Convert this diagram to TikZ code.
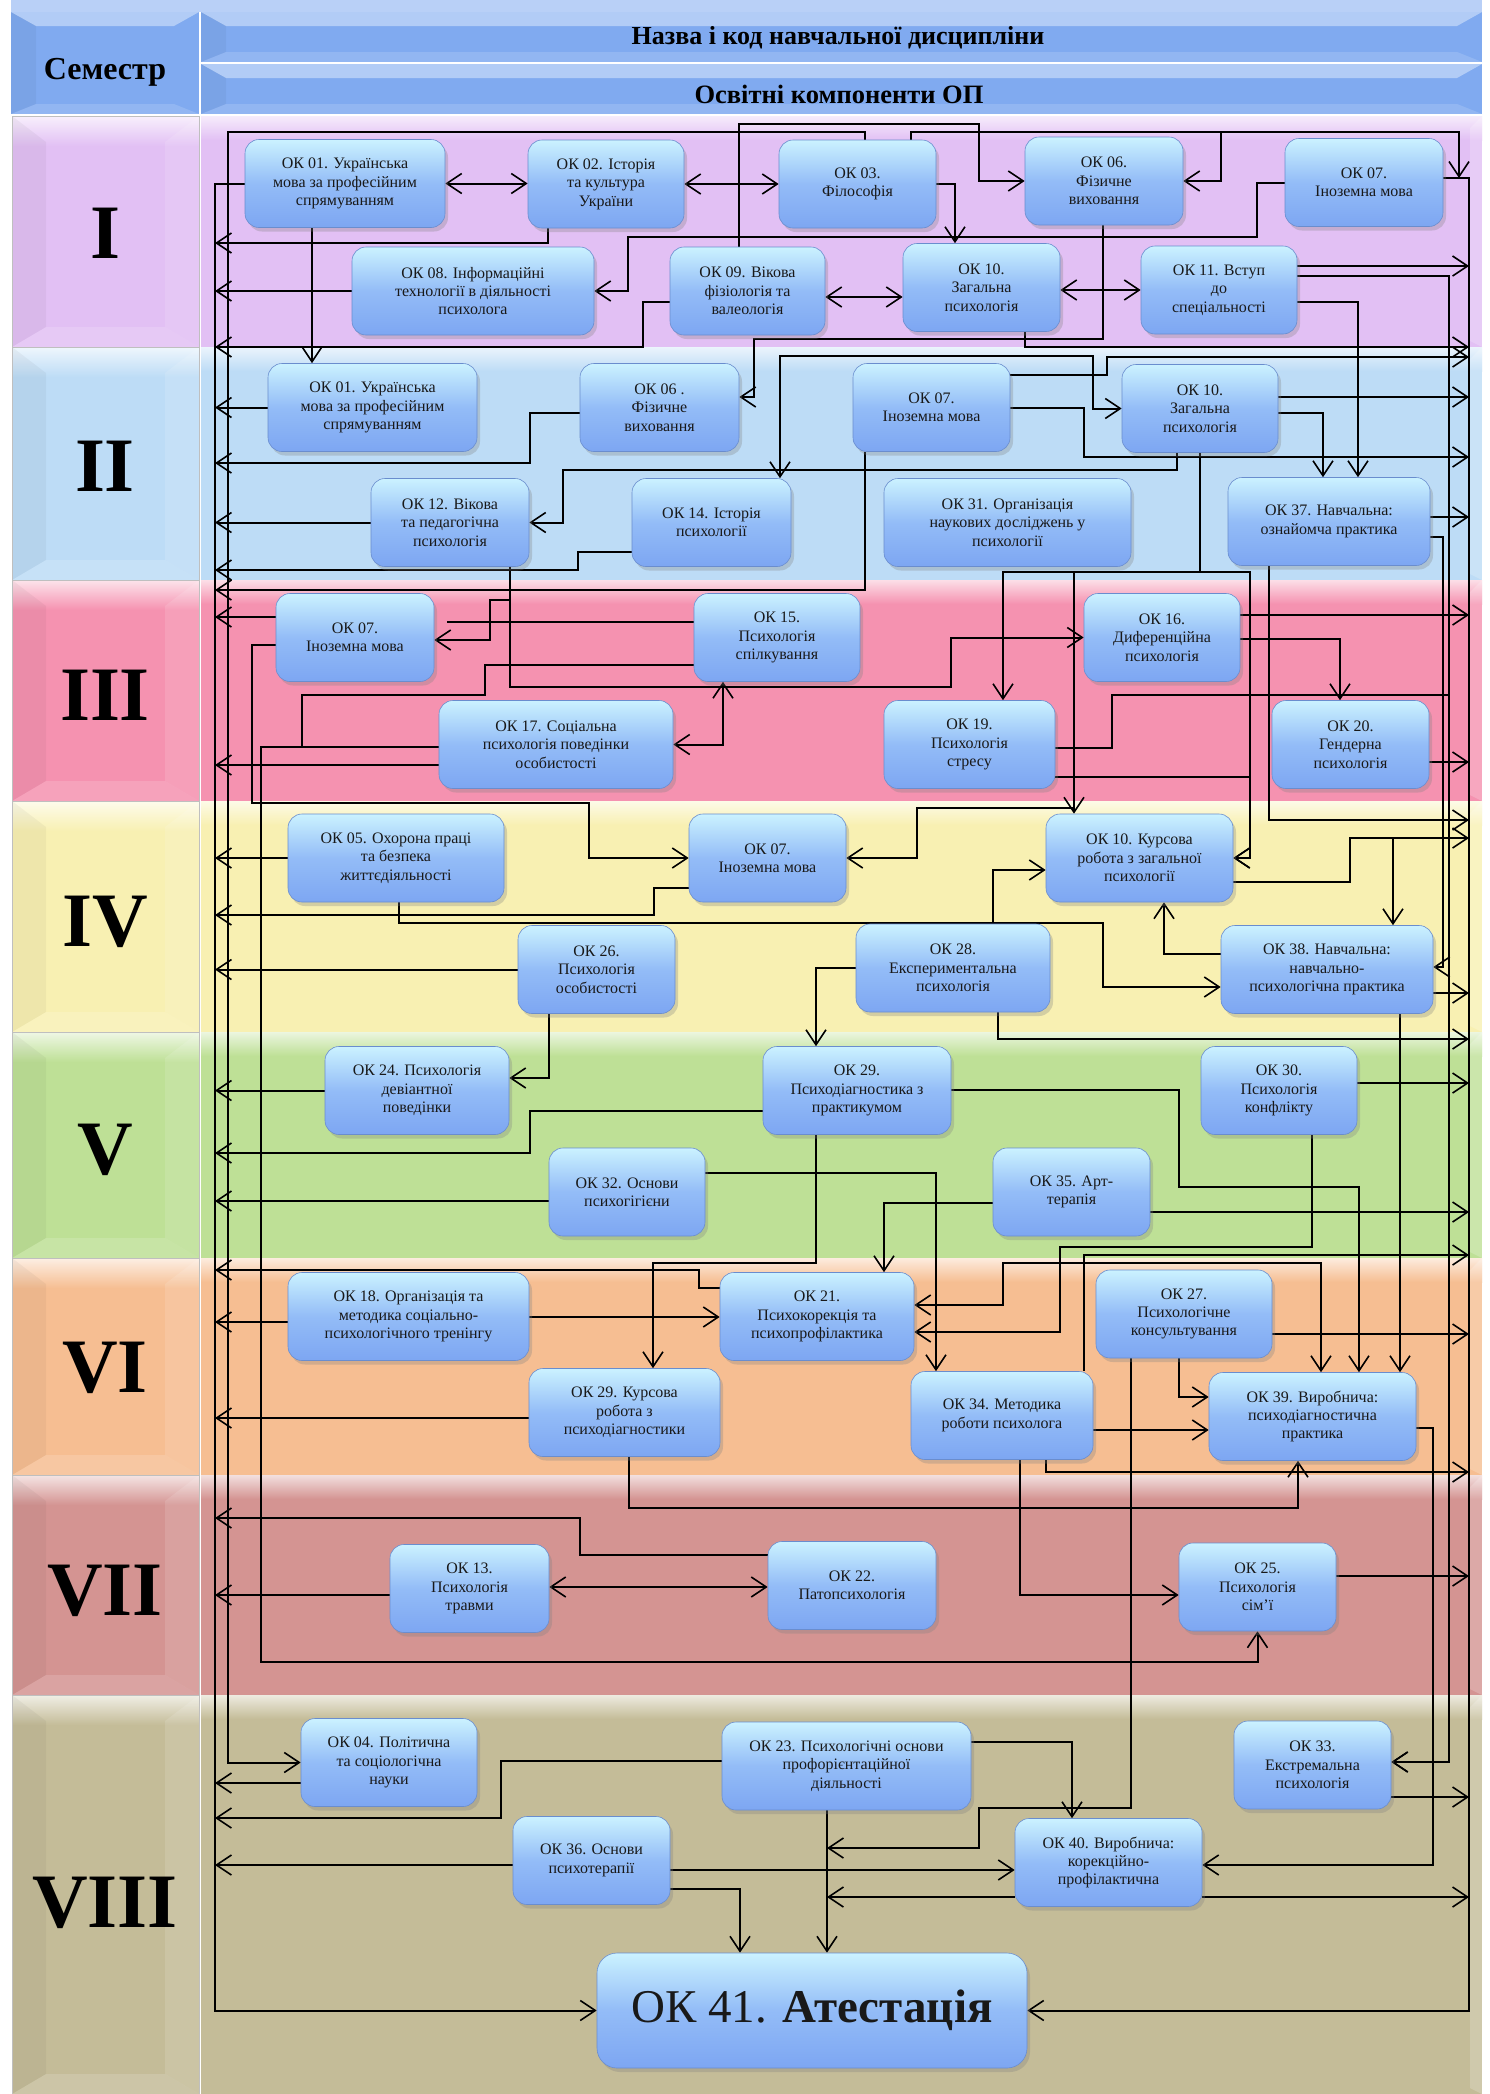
\documentclass[tikz,border=0pt]{standalone}
\usepackage{fontspec}
\setmainfont{Liberation Serif}
\usepackage{tikz}
\usetikzlibrary{
	arrows.meta,		% наконечники
	backgrounds,		% фон
	calc,				% вычисления
	positioning,		% размещение
	shadows,			% тени
}
\pgfdeclarelayer{lines}
\pgfsetlayers{background,lines,main}

\definecolor{hdr}{HTML}{80AAF0}
\definecolor{semI}{HTML}{E2C0F4}
\definecolor{semII}{HTML}{BDDCF6}
\definecolor{semIII}{HTML}{F592B0}
\definecolor{semIV}{HTML}{F8F0B2}
\definecolor{semV}{HTML}{BEE096}
\definecolor{semVI}{HTML}{F6BE92}
\definecolor{semVII}{HTML}{D49492}
\definecolor{semVIII}{HTML}{C4BC98}
\definecolor{boxtop}{HTML}{CBF2FF}
\definecolor{boxmid}{HTML}{93BCF7}
\definecolor{boxbot}{HTML}{7DA6F2}

\tikzset{
	okbox/.style={rounded corners=14pt, top color=boxtop, bottom color=boxbot, middle color=boxmid,
		draw=boxbot!85!black, line width=0.6pt, minimum height=88pt, align=center, inner sep=3pt,
		font=\fontsize{16}{18.4}\selectfont, text=black!90,
		drop shadow={shadow xshift=3pt, shadow yshift=-4pt, opacity=.3}},
	lnk/.style={line width=2pt},
	arr/.style={lnk, -{Straight Barb[length=15pt,width=20pt,line width=1.6pt]}},
	darr/.style={lnk, {Straight Barb[length=15pt,width=20pt,line width=1.6pt]}-{Straight Barb[length=15pt,width=20pt,line width=1.6pt]}},
}

\begin{document}
\begin{tikzpicture}[x=1pt, y=-1pt]
	\useasboundingbox (0,0) rectangle (1490,2094);
	\begin{pgfonlayer}{background}
		\fill[white] (0,0) rectangle (1490,2094);
		\fill[hdr!55!white] (11,0) rectangle (1482,12);
		% шапка
		\foreach \xa/\ya/\xb/\yb in {11/12/199/114, 201/12/1482/62, 201/64/1482/114} {
			\fill[hdr] (\xa,\ya) rectangle (\xb,\yb);
			\fill[white, opacity=.4] (\xa,\ya) -- (\xb,\ya) -- (\xb-25,\ya+14) -- (\xa+25,\ya+14) -- cycle;
			\fill[black, opacity=.04] (\xa,\ya) -- (\xa+25,\ya+14) -- (\xa+25,\yb-10) -- (\xa,\yb) -- cycle;
			\fill[white, opacity=.15] (\xa,\yb) -- (\xa+25,\yb-10) -- (\xb-25,\yb-10) -- (\xb,\yb) -- cycle;
		}
		% семестры
		\foreach \ya/\yb/\col/\num/\ny in {116/347/semI/I/233, 347/580/semII/II/466, 580/801/semIII/III/695,
				801/1032/semIV/IV/922, 1032/1258/semV/V/1150, 1258/1475/semVI/VI/1368,
				1475/1695/semVII/VII/1591, 1695/2094/semVIII/VIII/1903} {
			\fill[\col] (201,\ya) rectangle (1482,\yb);
			\shade[top color=white!70!\col, bottom color=\col] (201,\ya) rectangle (1482,\ya+24);
			\fill[white, opacity=.2] (1482,\ya) -- (1470,\ya+12) -- (1470,\yb-6) -- (1482,\yb) -- cycle;
			\fill[\col] (12,\ya) rectangle (199,\yb);
			\shade[top color=white!75!\col, bottom color=\col] (12,\ya) rectangle (199,\ya+30);
			\fill[black, opacity=.04] (12,\ya) -- (46,\ya+26) -- (46,\yb-20) -- (12,\yb) -- cycle;
			\fill[white, opacity=.12] (199,\ya) -- (165,\ya+26) -- (165,\yb-20) -- (199,\yb) -- cycle;
			\fill[white, opacity=.15] (12,\yb) -- (46,\yb-20) -- (165,\yb-20) -- (199,\yb) -- cycle;
			\draw[black!25, line width=.8pt] (12,\ya) rectangle (199,\yb);
			\node[inner sep=0pt, font=\fontsize{77}{77}\selectfont\bfseries] (num\num) at (105,\ny) {\num};
		}
	\end{pgfonlayer}
	\node[font=\fontsize{32}{32}\selectfont\bfseries] (sem) at (105,72) {Семестр};
	\node[font=\fontsize{26}{26}\selectfont\bfseries] (title) at (838,38) {Назва і код навчальної дисципліни};
	\node[font=\fontsize{26.5}{26.5}\selectfont\bfseries] (subtitle) at (839,94) {Освітні компоненти ОП};

	% I
	\node[okbox, minimum width=200pt] (ok01a) at (345,183.5) {ОК 01. Українська\\мова за професійним\\спрямуванням};
	\node[okbox, minimum width=156pt] (ok02a) at (606,184) {ОК 02. Історія\\та культура\\України};
	\node[okbox, minimum width=157pt] (ok03a) at (857.5,184) {ОК 03.\\Філософія};
	\node[okbox, minimum width=158pt] (ok06a) at (1104,181) {ОК 06.\\Фізичне\\виховання};
	\node[okbox, minimum width=158pt] (ok07a) at (1364,182.5) {ОК 07.\\Іноземна мова};
	\node[okbox, minimum width=242pt] (ok08a) at (473,291) {ОК 08. Інформаційні\\технології в діяльності\\психолога};
	\node[okbox, minimum width=155pt] (ok09a) at (747.5,291) {ОК 09. Вікова\\фізіологія та\\валеологія};
	\node[okbox, minimum width=157pt] (ok10a) at (981.5,287.5) {ОК 10.\\Загальна\\психологія};
	\node[okbox, minimum width=156pt] (ok11a) at (1219,290) {ОК 11. Вступ\\до\\спеціальності};
	% II
	\node[okbox, minimum width=209pt] (ok01b) at (372.5,407.5) {ОК 01. Українська\\мова за професійним\\спрямуванням};
	\node[okbox, minimum width=159pt] (ok06b) at (659.5,407.5) {ОК 06 .\\Фізичне\\виховання};
	\node[okbox, minimum width=157pt] (ok07b) at (931.5,407.5) {ОК 07.\\Іноземна мова};
	\node[okbox, minimum width=156pt] (ok10b) at (1200,408.5) {ОК 10.\\Загальна\\психологія};
	\node[okbox, minimum width=158pt] (ok12) at (450,522.5) {ОК 12. Вікова\\та педагогічна\\психологія};
	\node[okbox, minimum width=159pt] (ok14) at (711.5,522.5) {ОК 14. Історія\\психології};
	\node[okbox, minimum width=247pt] (ok31) at (1007.5,522.5) {ОК 31. Організація\\наукових досліджень у\\психології};
	\node[okbox, minimum width=202pt] (ok37) at (1329,521.5) {ОК 37. Навчальна:\\ознайомча практика};
	% III
	\node[okbox, minimum width=158pt] (ok07c) at (355,637.5) {ОК 07.\\Іноземна мова};
	\node[okbox, minimum width=166pt] (ok15) at (777,637.5) {ОК 15.\\Психологія\\спілкування};
	\node[okbox, minimum width=156pt] (ok16) at (1162,637.5) {ОК 16.\\Диференційна\\психологія};
	\node[okbox, minimum width=234pt] (ok17) at (556,744.5) {ОК 17. Соціальна\\психологія поведінки\\особистості};
	\node[okbox, minimum width=171pt] (ok19) at (969.5,744.5) {ОК 19.\\Психологія\\стресу};
	\node[okbox, minimum width=157pt] (ok20) at (1350.5,744.5) {ОК 20.\\Гендерна\\психологія};
	% IV
	\node[okbox, minimum width=216pt] (ok05) at (396,858) {ОК 05. Охорона праці\\та безпека\\життєдіяльності};
	\node[okbox, minimum width=157pt] (ok07d) at (767.5,858) {ОК 07.\\Іноземна мова};
	\node[okbox, minimum width=187pt] (ok10c) at (1139.5,858) {ОК 10. Курсова\\робота з загальної\\психології};
	\node[okbox, minimum width=157pt] (ok26) at (596.5,969.5) {ОК 26.\\Психологія\\особистості};
	\node[okbox, minimum width=194pt] (ok28) at (953,968) {ОК 28.\\Експериментальна\\психологія};
	\node[okbox, minimum width=212pt] (ok38) at (1327,969.5) {ОК 38. Навчальна:\\навчально-\\психологічна практика};
	% V
	\node[okbox, minimum width=184pt] (ok24) at (417,1090.5) {ОК 24. Психологія\\девіантної\\поведінки};
	\node[okbox, minimum width=188pt] (ok29) at (857,1090.5) {ОК 29.\\Психодіагностика з\\практикумом};
	\node[okbox, minimum width=156pt] (ok30) at (1279,1090.5) {ОК 30.\\Психологія\\конфлікту};
	\node[okbox, minimum width=156pt] (ok32) at (627,1192) {ОК 32. Основи\\психогігієни};
	\node[okbox, minimum width=157pt] (ok35) at (1071.5,1192) {ОК 35. Арт-\\терапія};
	% VI
	\node[okbox, minimum width=241pt] (ok18) at (408.5,1316.5) {ОК 18. Організація та\\методика соціально-\\психологічного тренінгу};
	\node[okbox, minimum width=194pt] (ok21) at (817,1316.5) {ОК 21.\\Психокорекція та\\психопрофілактика};
	\node[okbox, minimum width=176pt] (ok27) at (1184,1314) {ОК 27.\\Психологічне\\консультування};
	\node[okbox, minimum width=191pt] (ok29b) at (624.5,1412.5) {ОК 29. Курсова\\робота з\\психодіагностики};
	\node[okbox, minimum width=182pt] (ok34) at (1002,1415.5) {ОК 34. Методика\\роботи психолога};
	\node[okbox, minimum width=207pt] (ok39) at (1312.5,1416.5) {ОК 39. Виробнича:\\психодіагностична\\практика};
	% VII
	\node[okbox, minimum width=159pt] (ok13) at (469.5,1588.5) {ОК 13.\\Психологія\\травми};
	\node[okbox, minimum width=168pt] (ok22) at (852,1585.5) {ОК 22.\\Патопсихологія};
	\node[okbox, minimum width=157pt] (ok25) at (1257.5,1587) {ОК 25.\\Психологія\\сім’ї};
	% VIII
	\node[okbox, minimum width=176pt] (ok04) at (389,1762.5) {ОК 04. Політична\\та соціологічна\\науки};
	\node[okbox, minimum width=249pt] (ok23) at (846.5,1766) {ОК 23. Психологічні основи\\профорієнтаційної\\діяльності};
	\node[okbox, minimum width=157pt] (ok33) at (1312.5,1765) {ОК 33.\\Екстремальна\\психологія};
	\node[okbox, minimum width=157pt] (ok36) at (591.5,1860.5) {ОК 36. Основи\\психотерапії};
	\node[okbox, minimum width=187pt] (ok40) at (1108.5,1862.5) {ОК 40. Виробнича:\\корекційно-\\профілактична};
	\node[okbox, minimum width=430pt, minimum height=115pt, rounded corners=20pt,
		font=\fontsize{47}{47}\selectfont] (ok41) at (812,2010.5) {ОК 41. \textbf{Атестація}};

	\coordinate (lbus) at (215,0);
	\coordinate (rbus) at (1469,0);
	\coordinate (j41) at (827,1848);

	\begin{pgfonlayer}{lines}
		% шины
		\draw[arr] (ok01a.west) -| (lbus |- ok41.west) -- (ok41.west);
		\draw[arr] (ok07a.east |- 0,178) -| (rbus |- ok41.east) -- (ok41.east);
		% I
		\draw[darr] (ok01a.east) -- (ok02a.west |- ok01a.east);
		\draw[darr] (ok02a.east) -- (ok03a.west |- ok02a.east);
		\draw[arr] (548,0 |- ok02a.south) |- (lbus |- 0,243);
		\draw[arr] (312,0 |- ok01a.south) -- (312,0 |- ok01b.north);
		\draw[arr] (ok03a.east) -| (955,0 |- ok10a.north);
		\draw[arr] (865,0 |- ok03a.north) |- (228,132) |- (ok04.west);
		\draw[arr] (911,0 |- ok03a.north) |- (1221,132) |- (ok06a.east);
		\draw[arr] (911,0 |- ok03a.north) |- (1459,132) -- (1459,178);
		\draw[arr] (739,0 |- ok09a.north) |- (979,124) |- (ok06a.west);
		\draw[arr] (ok07a.west) -| (1257,237) -| (628,0 |- ok08a.east) -- (ok08a.east);
		\draw[arr] (ok08a.west) -- (lbus |- ok08a.west);
		\draw[darr] (ok09a.east |- 0,297) -- (ok10a.west |- 0,297);
		\draw[darr] (ok10a.east |- 0,290) -- (ok11a.west |- 0,290);
		\draw[arr] (ok09a.west |- 0,302) -| (643,347) -- (lbus |- 0,347);
		\draw[arr] (1103,0 |- ok06a.south) |- (754,339) |- (ok06b.east |- 0,397);
		\draw[arr] (1025,0 |- ok10a.south) |- (rbus |- 0,347);
		\draw[arr] (ok11a.east |- 0,266) -- (rbus |- 0,266);
		\draw[arr] (ok11a.east |- 0,276) -| (1449,1762) -- (ok33.east |- 0,1762);
		\draw[arr] (ok11a.east |- 0,302) -| (1358,0 |- ok37.north);
		% II
		\draw[arr] (ok01b.west) -- (lbus |- ok01b.west);
		\draw[arr] (ok06b.west |- 0,413) -| (530,463) -- (lbus |- 0,463);
		\draw[arr] (ok07b.east |- 0,375) -| (1107,357) -- (rbus |- 0,357);
		\draw[arr] (ok07b.east |- 0,408) -| (1084,457) -- (rbus |- 0,457);
		\draw[arr] (865,0 |- ok07b.south) |- (lbus |- 0,590);
		\draw[darr] (780,0 |- ok14.north) |- (1093,356) |- (ok10b.west);
		\draw[arr] (ok10b.east |- 0,397) -- (rbus |- 0,397);
		\draw[arr] (ok10b.east |- 0,413) -| (1323,0 |- ok37.north);
		\draw[arr] (1177,0 |- ok10b.south) |- (563,470) |- (ok12.east);
		\draw[arr] (1200,0 |- ok10b.south) |- (1003,572) -- (1003,0 |- ok19.north);
		\draw[arr] (1200,0 |- ok10b.south) |- (1250,572) |- (ok10c.east);
		\draw[arr] (1200,0 |- ok10b.south) |- (1074,572) -- (1074,0 |- ok10c.north);
		\draw[arr] (1200,0 |- ok10b.south) |- (1074,572) |- (917,808) |- (ok07d.east);
		\draw[arr] (ok12.west) -- (lbus |- ok12.west);
		\draw[arr] (ok14.west |- 0,552) -| (578,570) -- (lbus |- 0,570);
		\draw[arr] (ok37.east |- 0,517) -- (rbus |- 0,517);
		\draw[arr] (ok37.east |- 0,537) -| (1443,967) -- (ok38.east |- 0,967);
		\draw[arr] (1269,0 |- ok37.south) |- (rbus |- 0,820);
		\draw[arr] (510,0 |- ok12.south) |- (490,600) |- (ok07c.east |- 0,640);
		\draw[arr] (510,0 |- ok12.south) |- (951,687) |- (ok16.west);
		% III
		\draw[arr] (ok07c.west |- 0,617) -- (lbus |- 0,617);
		\draw[arr] (ok07c.west |- 0,645) -| (252,803) -| (589,0 |- ok07d.west) -- (ok07d.west);
		\draw[darr] (723,0 |- ok15.south) |- (ok17.east);
		\draw[lnk] (ok17.west |- 0,747) -| (302,695) -| (485,665) -- (ok15.west |- 0,665);
		\draw[lnk] (ok15.west |- 0,622) -- (447,622);
		\draw[arr] (ok17.west |- 0,747) -| (261,1662) -| (ok25.south);
		\draw[arr] (ok17.west |- 0,765) -- (lbus |- 0,765);
		\draw[arr] (ok16.east |- 0,615) -- (rbus |- 0,615);
		\draw[arr] (ok16.east |- 0,639) -| (1340,0 |- ok20.north);
		\draw[arr] (ok19.east |- 0,748) -| (1112,695) -| (1449,1762) -- (ok33.east |- 0,1762);
		\draw[arr] (ok19.east |- 0,777) -| (1250,0 |- ok10c.east) -- (ok10c.east);
		\draw[arr] (ok20.east |- 0,762) -- (rbus |- 0,762);
		% IV
		\draw[arr] (ok05.west) -- (lbus |- ok05.west);
		\draw[arr] (399,0 |- ok05.south) |- (1103,923) |- (ok38.west |- 0,987);
		\draw[arr] (ok07d.west |- 0,888) -| (654,915) -- (lbus |- 0,915);
		\draw[arr] (ok26.west) -- (lbus |- ok26.west);
		\draw[arr] (993,0 |- ok28.north) |- (ok10c.west |- 0,870);
		\draw[arr] (ok28.west) -| (816,0 |- ok29.north);
		\draw[arr] (ok10c.east |- 0,882) -| (1350,838) -- (rbus |- 0,838);
		\draw[arr] (ok10c.east |- 0,882) -| (1350,838) -| (1393,0 |- ok38.north);
		\draw[arr] (ok38.west |- 0,954) -| (1164,0 |- ok10c.south);
		\draw[arr] (ok38.east |- 0,993) -- (rbus |- 0,993);
		\draw[arr] (549,0 |- ok26.south) |- (ok24.east |- 0,1078);
		\draw[arr] (998,0 |- ok28.south) |- (rbus |- 0,1039);
		\draw[arr] (1400,0 |- ok38.south) -- (1400,0 |- ok39.north);
		% V
		\draw[arr] (ok24.west) -- (lbus |- ok24.west);
		\draw[arr] (ok29.west |- 0,1111) -| (530,1153) -- (lbus |- 0,1153);
		\draw[arr] (ok29.east |- 0,1090) -| (1179,1187) -| (1359,0 |- ok39.north);
		\draw[arr] (816,0 |- ok29.south) |- (653,1263) -- (653,0 |- ok29b.north);
		\draw[arr] (ok30.east |- 0,1083) -- (rbus |- 0,1083);
		\draw[arr] (1312,0 |- ok30.south) |- (1060,1247) |- (ok21.east |- 0,1332);
		\draw[arr] (ok32.west |- 0,1201) -- (lbus |- 0,1201);
		\draw[arr] (ok32.east |- 0,1173) -| (936,0 |- ok34.north);
		\draw[arr] (ok35.west |- 0,1203) -| (884,0 |- ok21.north);
		\draw[arr] (ok35.east |- 0,1212) -- (rbus |- 0,1212);
		\draw[arr] (1084,0 |- ok34.north) |- (rbus |- 0,1255);
		% VI
		\draw[arr] (ok21.west |- 0,1288) -| (699,1270) -- (lbus |- 0,1270);
		\draw[arr] (ok18.west |- 0,1322) -- (lbus |- 0,1322);
		\draw[arr] (ok18.east |- 0,1317) -- (ok21.west |- 0,1317);
		\draw[arr] (ok29b.west |- 0,1418) -- (lbus |- 0,1418);
		\draw[darr] (ok21.east |- 0,1305) -| (1003,1263) -| (1321,0 |- ok39.north);
		\draw[arr] (ok27.east |- 0,1334) -- (rbus |- 0,1334);
		\draw[arr] (1179,0 |- ok27.south) |- (ok39.west |- 0,1397);
		\draw[arr] (1131,0 |- ok27.south) |- (979,1808) |- (j41);
		\draw[arr] (ok34.east |- 0,1430) -- (ok39.west |- 0,1430);
		\draw[arr] (1046,0 |- ok34.south) |- (rbus |- 0,1472);
		\draw[arr] (1020,0 |- ok34.south) |- (ok25.west |- 0,1595);
		\draw[arr] (629,0 |- ok29b.south) |- (1298,1508) -- (1298,0 |- ok39.south);
		\draw[arr] (ok39.east |- 0,1428) -| (1433,1865) -- (ok40.east |- 0,1865);
		% VII
		\draw[arr] (ok22.west |- 0,1555) -| (580,1518) -- (lbus |- 0,1518);
		\draw[arr] (ok13.west |- 0,1595) -- (lbus |- 0,1595);
		\draw[darr] (ok13.east |- 0,1587) -- (ok22.west |- 0,1587);
		\draw[arr] (ok25.east |- 0,1576) -- (rbus |- 0,1576);
		% VIII
		\draw[arr] (ok04.west |- 0,1783) -- (lbus |- 0,1783);
		\draw[arr] (ok23.west |- 0,1761) -| (501,1818) -- (lbus |- 0,1818);
		\draw[arr] (ok23.east |- 0,1742) -| (1072,0 |- ok40.north);
		\draw[arr] (827,0 |- ok23.south) -- (827,0 |- ok41.north);
		\draw[arr] (ok36.west |- 0,1865) -- (lbus |- 0,1865);
		\draw[arr] (ok36.east |- 0,1870) -- (ok40.west |- 0,1870);
		\draw[arr] (ok36.east |- 0,1889) -| (740,0 |- ok41.north);
		\draw[arr] (ok40.west |- 0,1897) -- (j41 |- 0,1897);
		\draw[arr] (ok40.east |- 0,1897) -- (rbus |- 0,1897);
		\draw[arr] (ok33.east |- 0,1797) -- (rbus |- 0,1797);
	\end{pgfonlayer}
\end{tikzpicture}
\end{document}
